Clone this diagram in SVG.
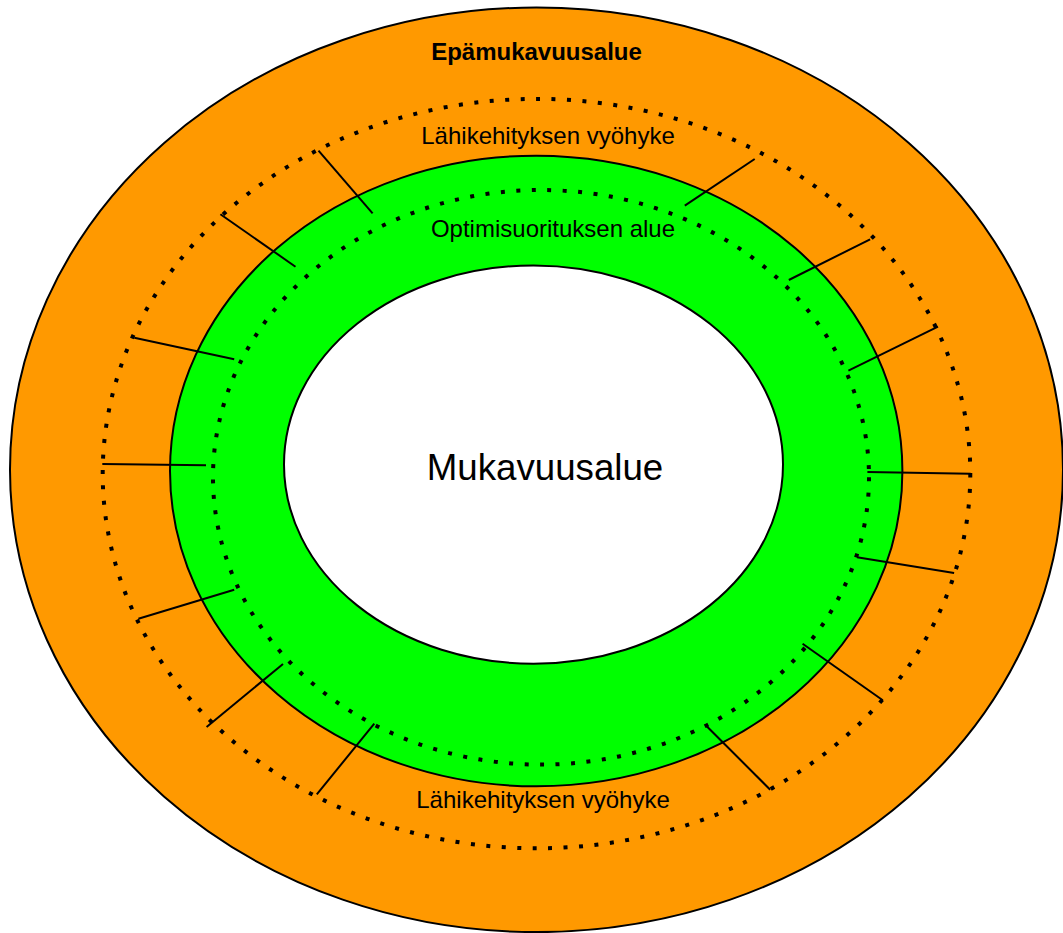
<svg xmlns="http://www.w3.org/2000/svg" width="1063" height="933" viewBox="0 0 1063 933">
<style>
.zone{stroke:#000;stroke-width:2}
.dots{fill:none;stroke:#000;stroke-width:4;stroke-dasharray:4 11.5}
.tick{stroke:#000;stroke-width:2;stroke-linecap:butt}
.lbl{font-family:"Liberation Sans",Arial,sans-serif;font-size:24px;fill:#000;text-anchor:middle}
</style>
<rect width="1063" height="933" fill="#fff"/>
<g id="epamukavuusalue">
<ellipse class="zone" cx="536.5" cy="469.8" rx="526.5" ry="462.3" fill="#FF9900"/>
<text class="lbl" x="536.5" y="60" font-weight="bold">Epämukavuusalue</text>
</g>
<g id="lahikehitys">
<ellipse class="dots" cx="536.5" cy="473.6" rx="433.8" ry="374.7"/>
</g>
<g id="optimisuoritus">
<ellipse class="zone" cx="536.2" cy="471" rx="366.2" ry="315.3" fill="#00FF00"/>
<ellipse class="dots" cx="541" cy="477.3" rx="328" ry="287.3"/>
</g>
<g id="mukavuusalue">
<ellipse class="zone" cx="533.5" cy="464.6" rx="249.5" ry="199.1" fill="#fff"/>
</g>
<g id="connectors">
<line class="tick" x1="318.5" y1="150.7" x2="372.6" y2="213.3"/>
<line class="tick" x1="220.4" y1="214.3" x2="295.5" y2="266.7"/>
<line class="tick" x1="134.3" y1="337.7" x2="234.2" y2="359.3"/>
<line class="tick" x1="102.3" y1="464" x2="206" y2="465.3"/>
<line class="tick" x1="138.4" y1="618.7" x2="234.2" y2="589.7"/>
<line class="tick" x1="206.6" y1="727" x2="283" y2="664"/>
<line class="tick" x1="316.8" y1="794.3" x2="374.3" y2="723.7"/>
<line class="tick" x1="754.7" y1="159" x2="684.8" y2="205.7"/>
<line class="tick" x1="870.1" y1="239.3" x2="788.8" y2="280"/>
<line class="tick" x1="938" y1="326.7" x2="848.4" y2="370.7"/>
<line class="tick" x1="970.7" y1="473.7" x2="867.4" y2="472"/>
<line class="tick" x1="954.1" y1="573" x2="857" y2="557.3"/>
<line class="tick" x1="882.8" y1="700.3" x2="802.6" y2="643.7"/>
<line class="tick" x1="770.2" y1="789.7" x2="706.2" y2="725.7"/>
</g>
<g id="labels">
<text class="lbl" x="548" y="143.5">Lähikehityksen vyöhyke</text>
<text class="lbl" x="553" y="236.7">Optimisuorituksen alue</text>
<text class="lbl" x="545" y="480" font-size="36.7px" style="font-size:36.7px">Mukavuusalue</text>
<text class="lbl" x="543" y="808">Lähikehityksen vyöhyke</text>
</g>
</svg>
